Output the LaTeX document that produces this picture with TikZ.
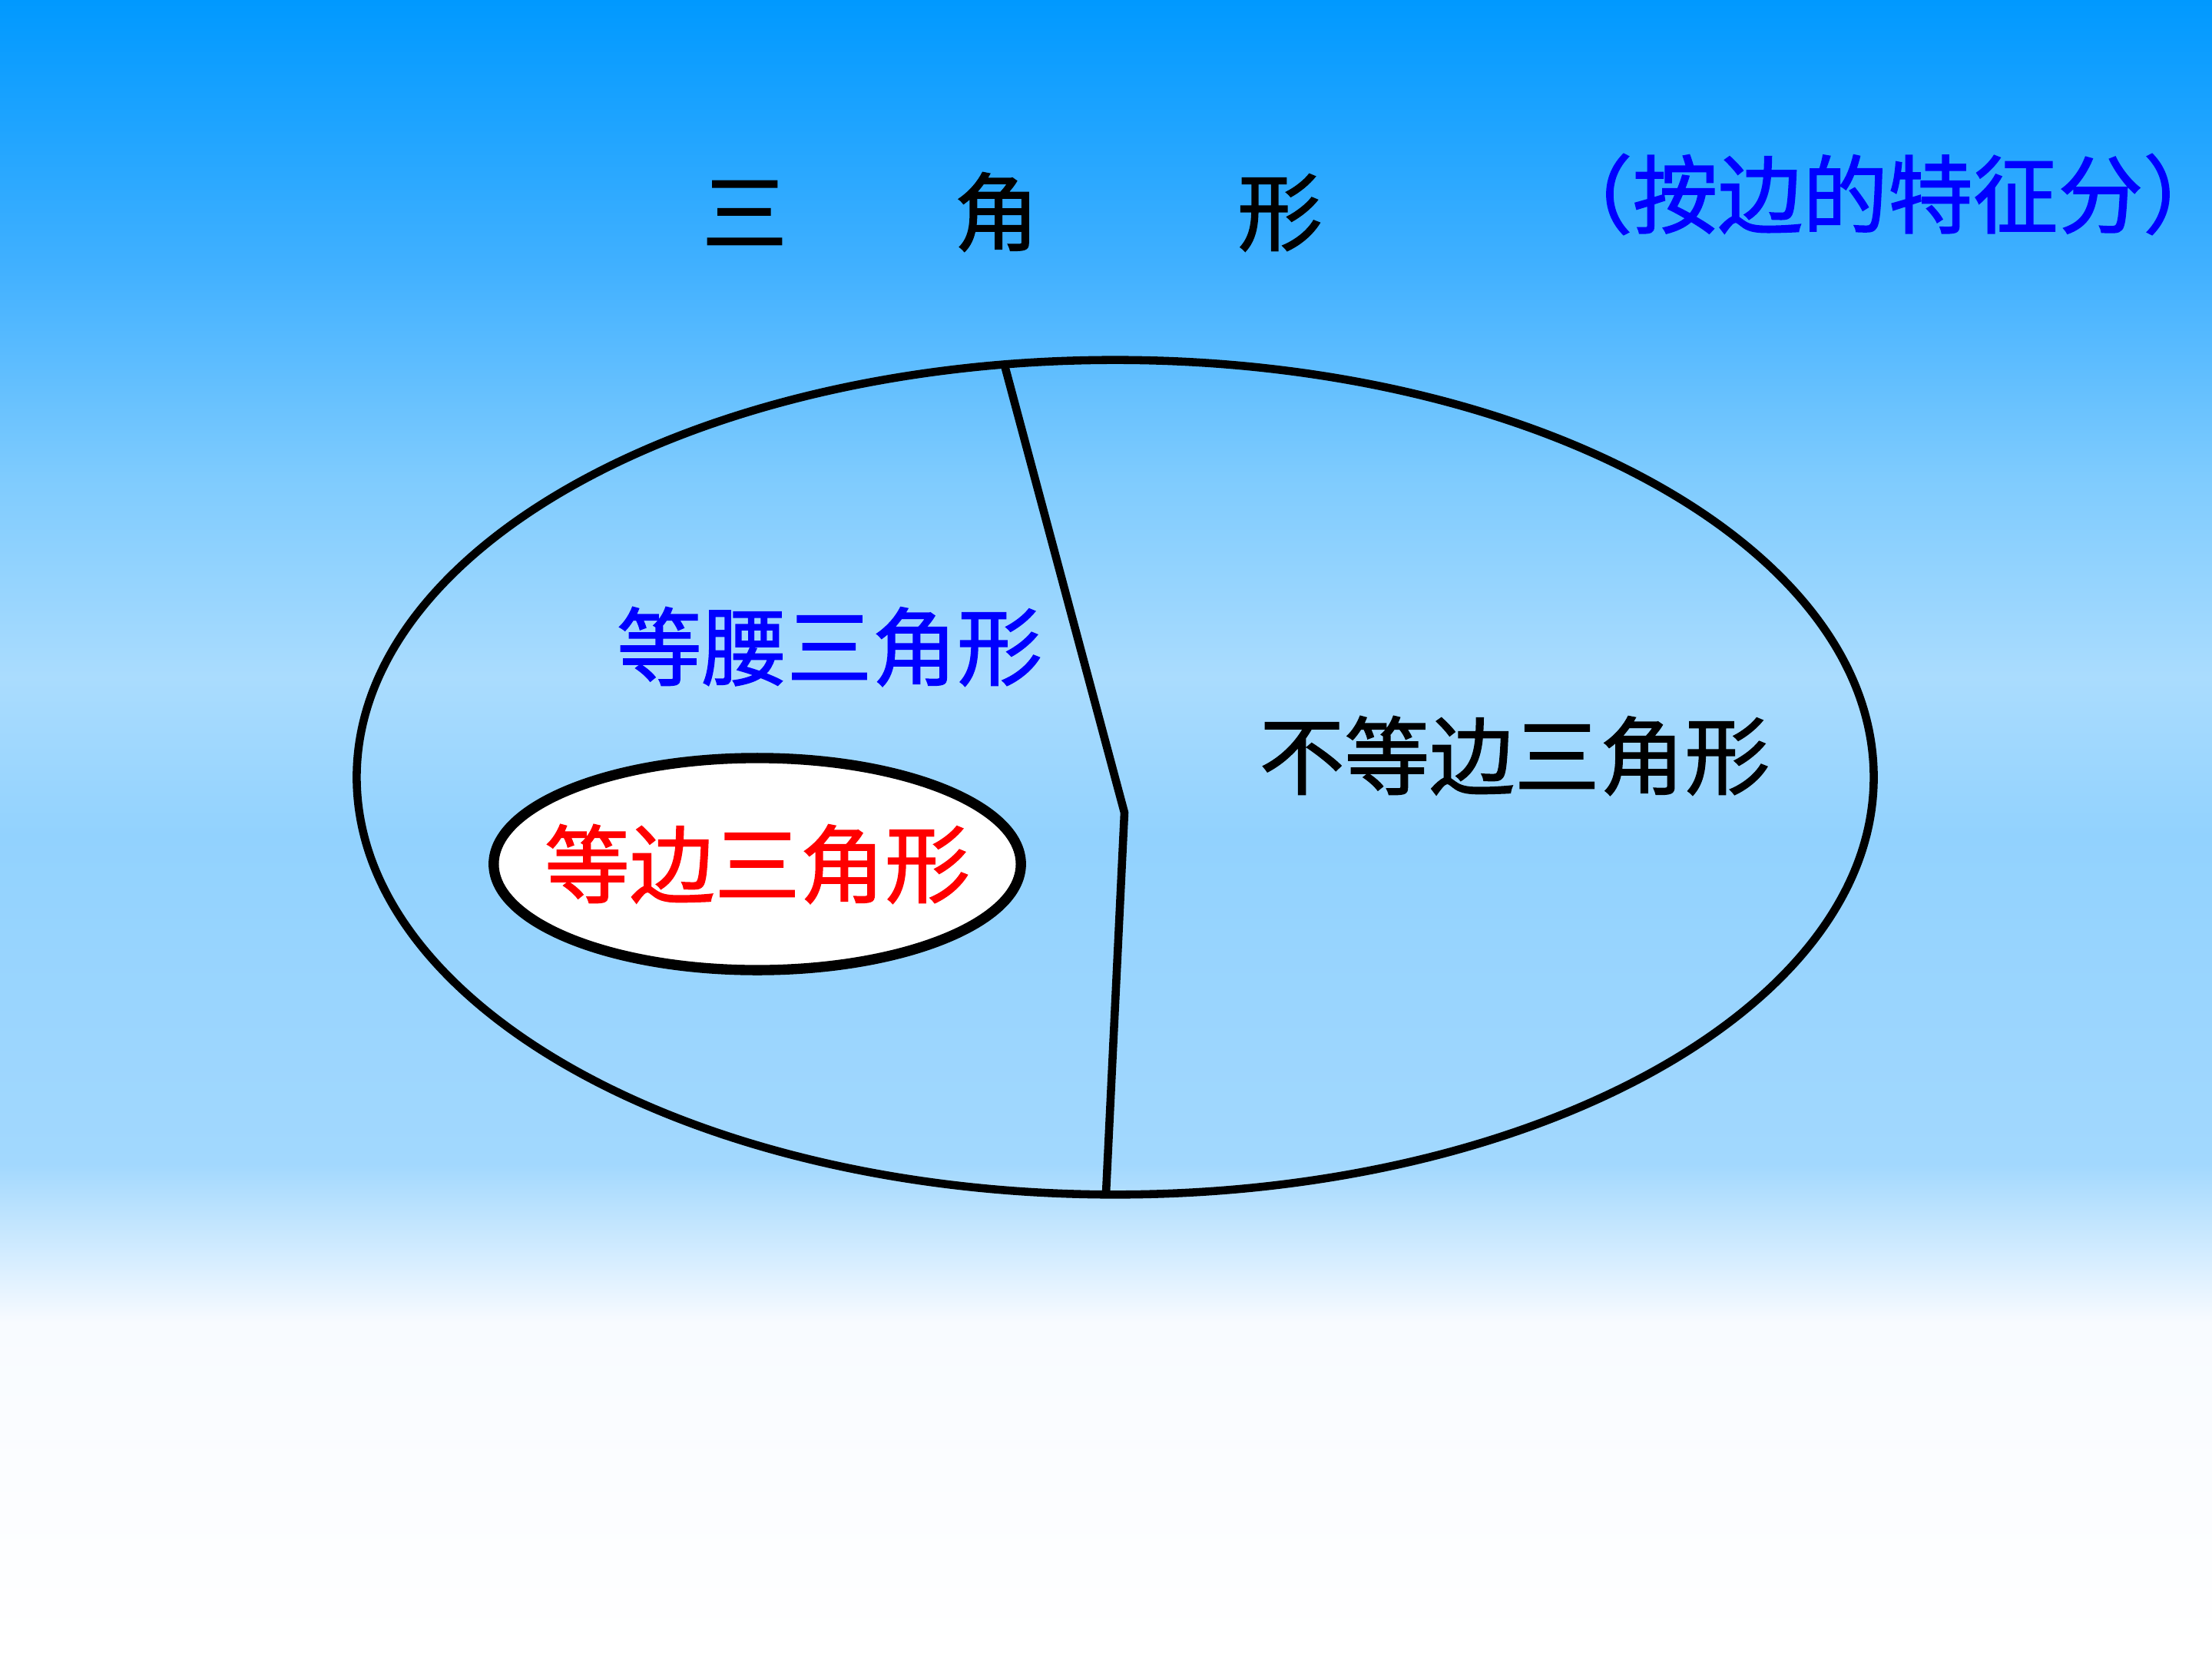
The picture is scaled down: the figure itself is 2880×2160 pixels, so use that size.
\documentclass[tikz,border=0pt]{standalone}
\usepackage{fontspec}
\setmainfont{Noto Sans CJK SC}
\newfontfamily\cjkmid[FakeBold=1.4]{Noto Sans CJK SC}
\usepackage{tikz}
\usetikzlibrary{shapes.geometric}
\usetikzlibrary{positioning}

\definecolor{skyA}{HTML}{0099FF}
\definecolor{skyB}{HTML}{40B0FF}
\definecolor{skyC}{HTML}{7ECBFE}
\definecolor{skyD}{HTML}{AADCFE}
\definecolor{skyE}{HTML}{92D2FE}
\definecolor{skyF}{HTML}{A2D8FE}
\definecolor{skyG}{HTML}{F8FBFF}
\definecolor{txtblue}{HTML}{0000FF}
\definecolor{txtred}{HTML}{FF0000}

\pgfdeclareverticalshading{sky}{100bp}{%
  color(0bp)=(white); color(25bp)=(white);
  color(35.14bp)=(skyG); color(39.93bp)=(skyF);
  color(49.81bp)=(skyE); color(54.58bp)=(skyD);
  color(60.65bp)=(skyC); color(67.04bp)=(skyB);
  color(75bp)=(skyA); color(100bp)=(skyA)}

\tikzset{
    region/.style={
           ellipse,
           draw=black, line width=3pt,
           inner sep=0pt,
           },
    kind/.style={
           inner sep=0pt,
           font=\cjkmid\fontsize{31.5}{36}\selectfont,
           },
}

\begin{document}
\begin{tikzpicture}[x=0.01cm,y=-0.01cm]
   % background
   \shade[shading=sky] (0,0) rectangle (2880,2160);
   \useasboundingbox (0,0) rectangle (2880,2160);

   \node[kind] (T) at (1318,276)
   {三\hspace{1.96em}角\hspace{2.33em}形};
   \node[kind,
 text=txtblue] (BY) at (2458,253)
   {（按边的特征分）};

   % the big set and its parts
   \node[region,
 minimum width=19.74cm,
 minimum height=10.86cm] (ALL) at (1452,1012) {};
   \coordinate (top) at (1307,472);
   \coordinate (kink) at (1464,1058);
   \coordinate (bot) at (1440,1554);
   \draw[line width=3pt, line join=bevel] (top) -- (kink) -- (bot);

   \node[region,
 line width=3.8pt,
 fill=white,
 minimum width=6.86cm,
 minimum height=2.76cm] (EQ) at (986,1125) {};

   \node[kind,
 text=txtblue] (ISO) at (1080,842) {等腰三角形};
   \node[kind,
 text=txtred] (EQL) at (EQ) {等边三角形};
   \node[kind] (SCA) at (1972,984) {不等边三角形};
\end{tikzpicture}
\end{document}
